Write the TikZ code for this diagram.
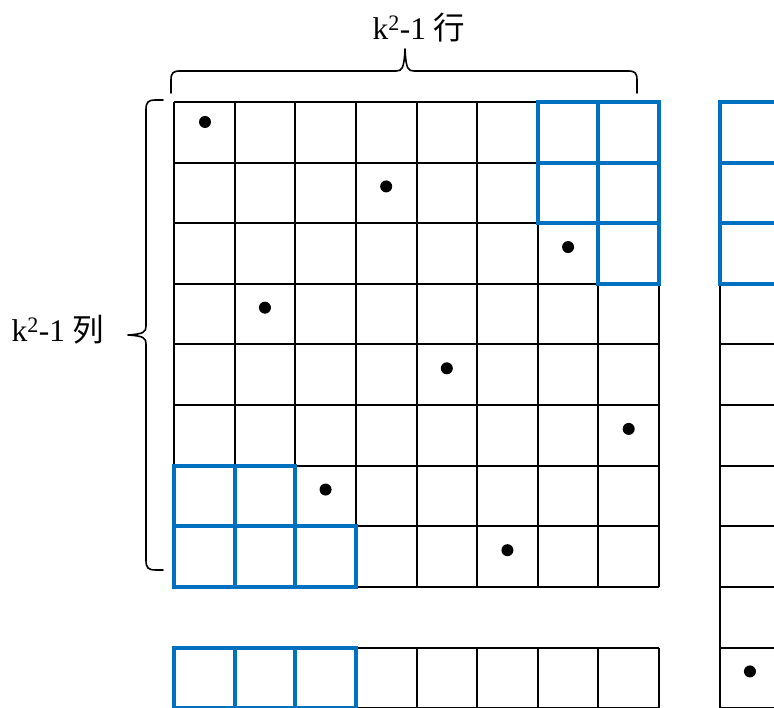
\documentclass[tikz,border=0pt]{standalone}
\usepackage{fontspec}
\setmainfont{Liberation Serif}
\newfontfamily\cjk{Noto Sans CJK SC}
\definecolor{cellblue}{RGB}{0,112,192}
\begin{document}
\begin{tikzpicture}[x=1pt,y=1pt,
  gridline/.style={line width=2pt,black},
  blueline/.style={line width=4pt,cellblue},
  dot/.style={circle,fill=black,inner sep=0pt,minimum size=12pt},
  bracepath/.style={line width=1.6pt,line cap=round,line join=round},
  label/.style={inner sep=0pt,font=\fontsize{31.5}{36}\selectfont}]
\def\s{60.625}
\useasboundingbox (0,0) rectangle (774,708);
\begin{scope}[shift={(0,708)},yscale=-1]
\begin{scope}
\clip (0,0) rectangle (774,708);
% main 8x8 grid
\foreach \i in {0,...,8} {
  \pgfmathsetmacro\xx{174+\i*\s}
  \pgfmathsetmacro\yy{102+\i*\s}
  \draw[gridline] (\xx,102) -- (\xx,587);
  \draw[gridline] (174,\yy) -- (659,\yy);
  % bottom row
  \draw[gridline] (\xx,647.6) -- (\xx,708.25);
}
\draw[gridline] (174,647.6) -- (659,647.6);
\draw[gridline] (174,708.25) -- (659,708.25);
% right column
\draw[gridline] (719.6,102) -- (719.6,708.25);
\draw[gridline] (780.25,102) -- (780.25,708.25);
\foreach \i in {0,...,10} {
  \pgfmathsetmacro\yy{102+\i*\s}
  \draw[gridline] (719.6,\yy) -- (780.25,\yy);
}
% blue cells
\foreach \c/\r in {7/1,8/1,7/2,8/2,8/3,1/7,2/7,1/8,2/8,3/8,1/10,2/10,3/10,10/1,10/2,10/3} {
  \pgfmathsetmacro\xa{174+(\c-1)*\s}
  \pgfmathsetmacro\ya{102+(\r-1)*\s}
  \draw[blueline] (\xa,\ya) rectangle ++(\s,\s);
}
% dots
\node[dot] (dot1) at (205,122) {};
\foreach \c/\r [count=\n from 2] in {4/2,7/3,2/4,5/5,8/6,3/7,6/8,10/10} {
  \pgfmathsetmacro\xa{174+(\c-0.5)*\s}
  \pgfmathsetmacro\ya{102+(\r-0.5)*\s-6.5}
  \node[dot] (dot\n) at (\xa,\ya) {};
}
\end{scope}
% braces
\coordinate (tbl) at (171,93);
\coordinate (tbr) at (637,93);
\coordinate (ttip) at (405,49);
\coordinate (lbt) at (163,100);
\coordinate (lbb) at (163,570);
\coordinate (ltip) at (128,335);
\draw[bracepath] (tbl) -- (171,80) .. controls (171,73) and (173,71) .. (180,71)
  -- (396,71) .. controls (402,71) and (404,69) .. (ttip)
  .. controls (406,69) and (408,71) .. (414,71)
  -- (628,71) .. controls (635,71) and (637,73) .. (637,80) -- (tbr);
\draw[bracepath] (lbt) -- (156,100) .. controls (148,100) and (146,102) .. (146,110)
  -- (146,326) .. controls (146,332) and (144,334) .. (ltip)
  .. controls (144,336) and (146,338) .. (146,344)
  -- (146,560) .. controls (146,568) and (148,570) .. (156,570) -- (lbb);
% labels
\node[label] (toplabel) at (419,28) {k\textsuperscript{2}-1 {\cjk 行}};
\node[label] (leftlabel) at (58,330) {k\textsuperscript{2}-1 {\cjk 列}};
\end{scope}
\end{tikzpicture}
\end{document}
